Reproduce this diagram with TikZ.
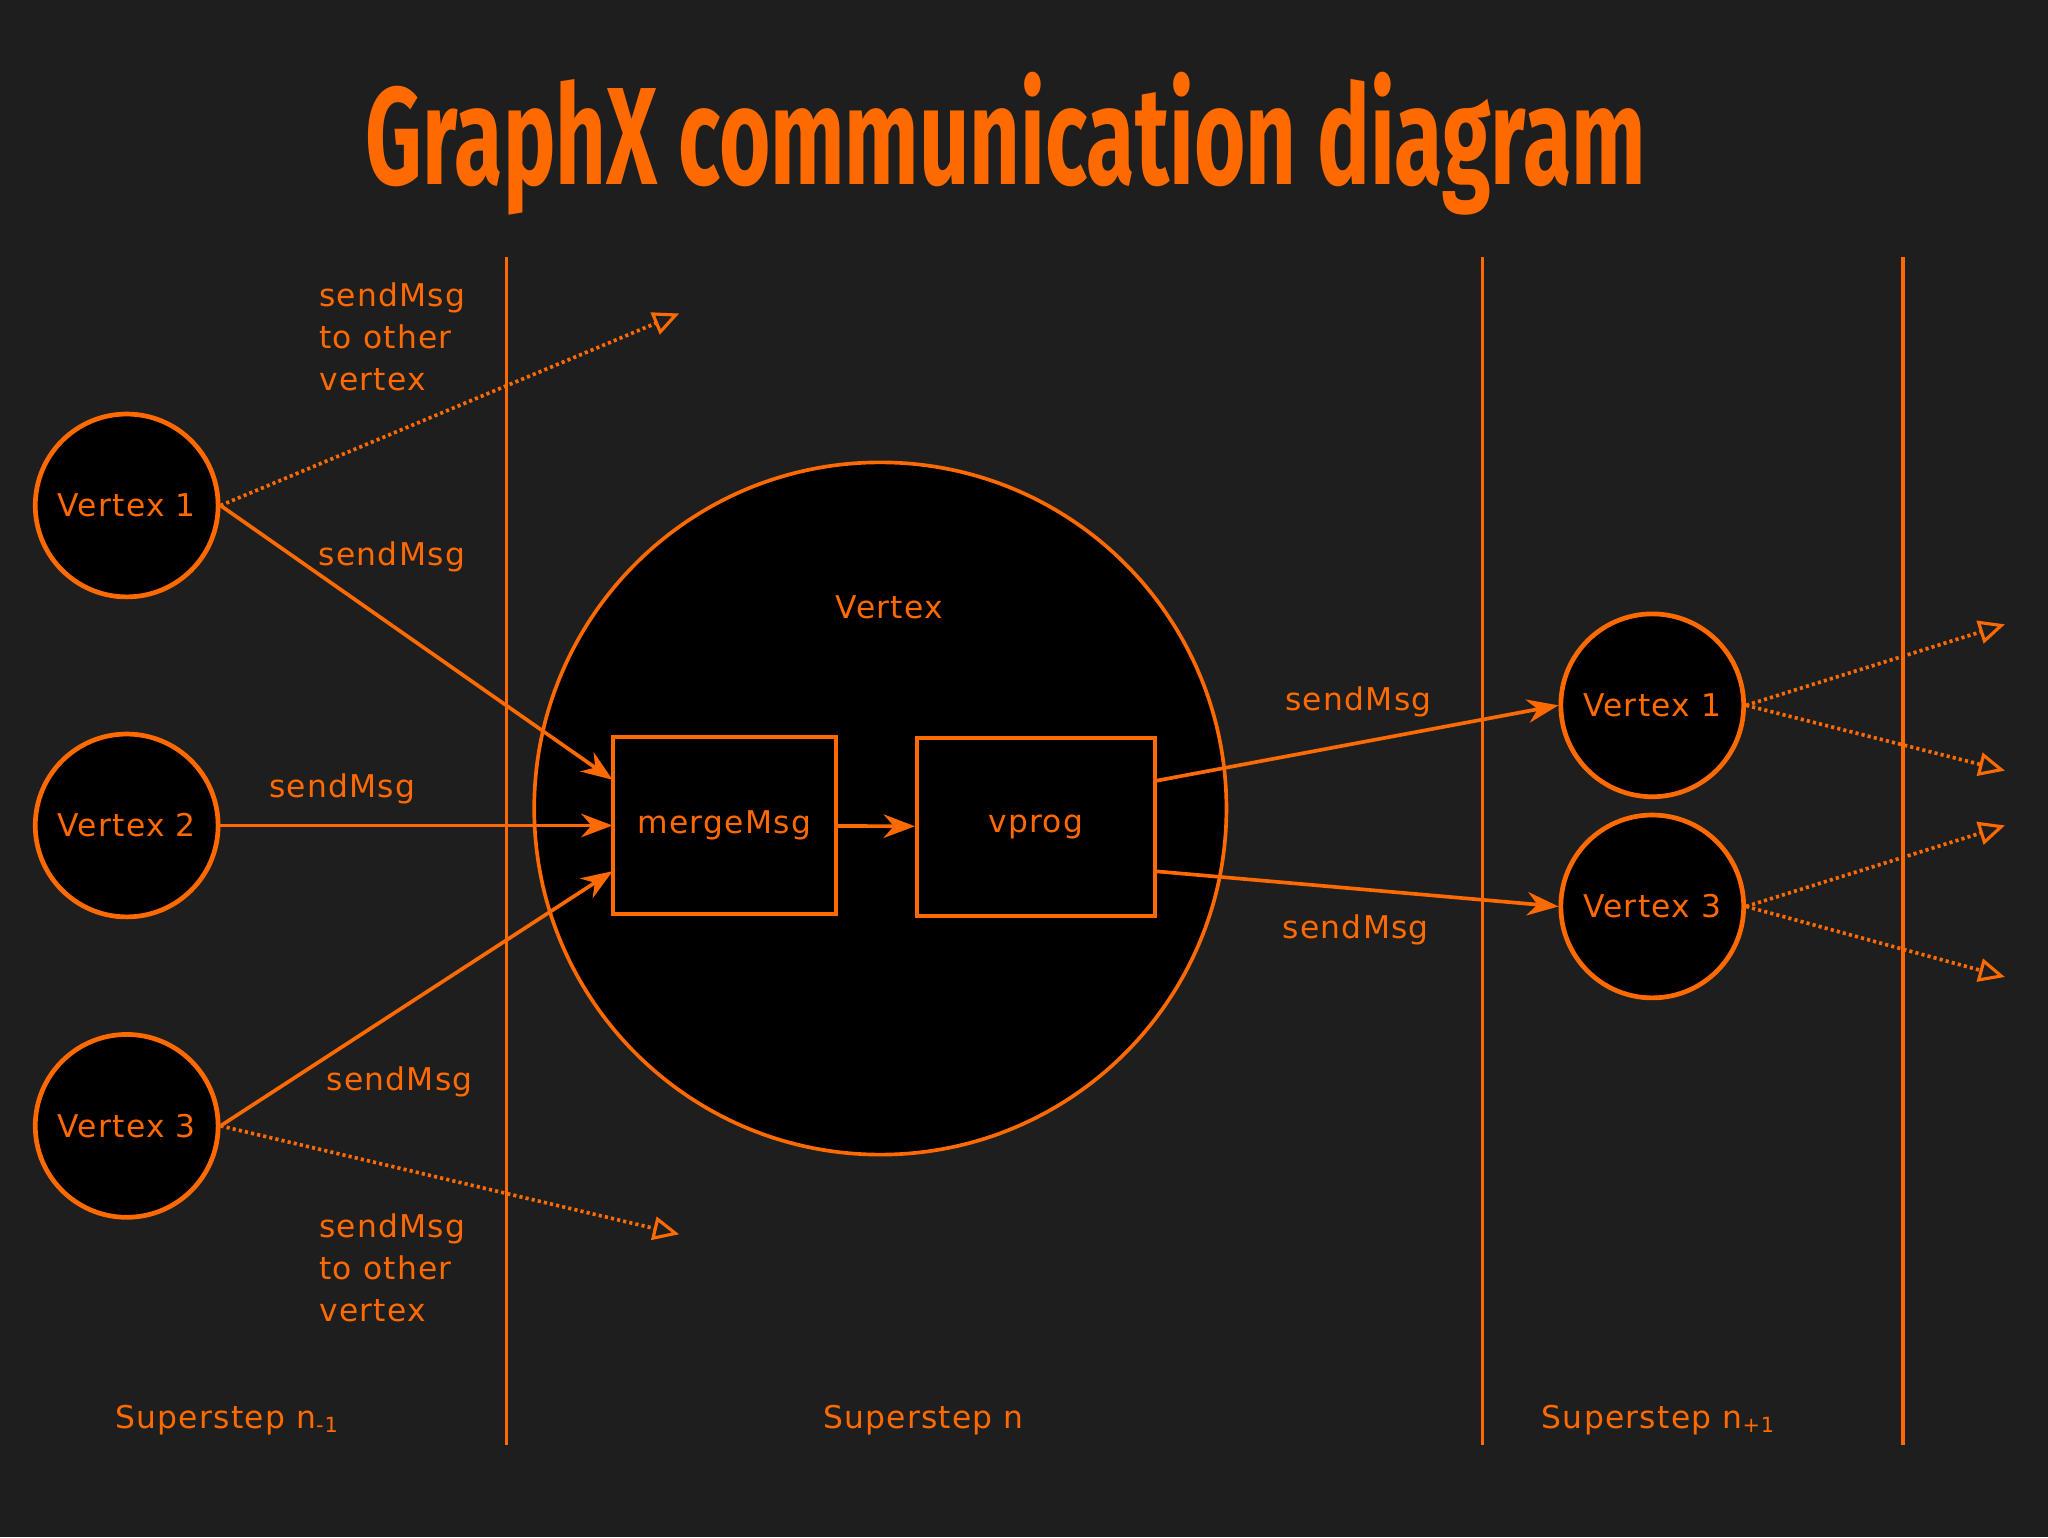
\documentclass[tikz,border=0pt]{standalone}
\usepackage{fontspec}
\setmainfont{DejaVu Sans}[LetterSpace=4]
\newfontfamily\titlefont{Fira Sans}
\usetikzlibrary{arrows.meta}
\definecolor{bg}{HTML}{1E1E1E}
\definecolor{org}{HTML}{FF6A00}
\begin{document}
\begin{tikzpicture}[x=0.5pt,y=-0.5pt,
  vtx/.style={circle,draw=org,fill=black,line width=1.8pt,minimum size=70pt,inner sep=0pt,text=org,font=\fontsize{12}{13}\selectfont},
  box/.style={draw=org,fill=black,line width=1.5pt,text=org,font=\fontsize{12}{13}\selectfont,inner sep=0pt},
  lbl/.style={text=org,font=\fontsize{12}{16}\selectfont,inner sep=0pt},
  arr/.style={draw=org,line width=1.4pt,-{Stealth[length=12pt,width=9pt]}},
  dot/.style={draw=org,line width=1.4pt,dash pattern=on 1.2pt off 1.2pt,-{Triangle[open,length=10pt,width=9pt,line width=1.2pt]}},
  vline/.style={draw=org,line width=1.2pt}]
\fill[bg] (0,0) rectangle (1568,1177);
\useasboundingbox (0,0) rectangle (1568,1177);
\node[text=org,inner sep=0pt] (title) at (770,110) {\resizebox{490pt}{43pt}{\titlefont\bfseries GraphX communication diagram}};
\draw[vline] (388,197) -- (388,1106);
\draw[vline] (1135,197) -- (1135,1106);
\draw[vline] (1457,197) -- (1457,1106);
\node[circle,draw=org,fill=black,line width=1.4pt,minimum size=265pt,inner sep=0pt] (big) at (674,619) {};
\node[lbl] (vt) at (681,465) {Vertex};
\node[box,minimum width=85.5pt,minimum height=68pt] (merge) at (554.5,632) {mergeMsg};
\node[box,minimum width=91pt,minimum height=68pt] (vprog) at (793,633) {vprog};
\node[vtx] (l1) at (97,387) {Vertex 1};
\node[vtx] (l2) at (97,632) {Vertex 2};
\node[vtx] (l3) at (97,862) {Vertex 3};
\node[vtx] (r1) at (1265,540) {Vertex 1};
\node[vtx] (r3) at (1265,694) {Vertex 3};
\coordinate (m1) at (469,597); \coordinate (m2) at (469,632); \coordinate (m3) at (469,667);
\coordinate (v1) at (884,598); \coordinate (v3) at (884,667);
\draw[arr] (l1.east) -- (m1);
\draw[arr] (l2.east) -- (m2);
\draw[arr] (l3.east) -- (m3);
\draw[arr] (merge) -- (vprog);
\draw[arr] (v1) -- (r1.west);
\draw[arr] (v3) -- (r3.west);
\coordinate (d1) at (520,240); \coordinate (d3) at (520,945);
\coordinate (e1) at (1535,478); \coordinate (e2) at (1535,590);
\coordinate (e3) at (1535,632); \coordinate (e4) at (1535,748);
\draw[dot] (l1.east) -- (d1);
\draw[dot] (l3.east) -- (d3);
\draw[dot] (r1.east) -- (e1);
\draw[dot] (r1.east) -- (e2);
\draw[dot] (r3.east) -- (e3);
\draw[dot] (r3.east) -- (e4);
\node[lbl,anchor=north west,align=left] (t1) at (244,216) {sendMsg\\to other\\vertex};
\node[lbl,anchor=north west,align=left] (t3) at (244,929) {sendMsg\\to other\\vertex};
\node[lbl] (s1) at (300,426) {sendMsg};
\node[lbl] (s2) at (262,604) {sendMsg};
\node[lbl] (s3) at (306,828) {sendMsg};
\node[lbl] (s4) at (1040,537) {sendMsg};
\node[lbl] (s5) at (1038,712) {sendMsg};
\node[lbl,anchor=west] (p1) at (88,1087) {Superstep n\textsubscript{-1}};
\node[lbl] (p2) at (707,1087) {Superstep n};
\node[lbl,anchor=west] (p3) at (1180,1087) {Superstep n\textsubscript{+1}};
\end{tikzpicture}
\end{document}
